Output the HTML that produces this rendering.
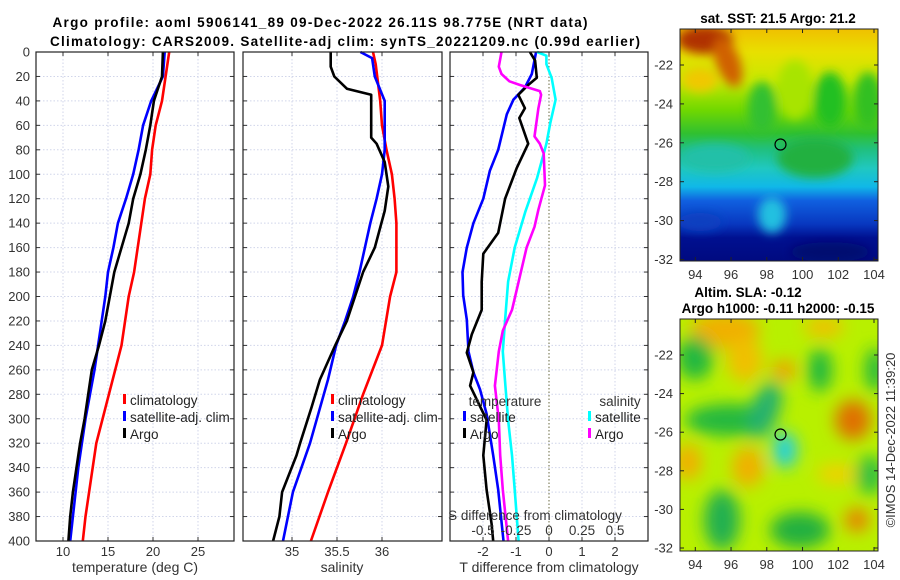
<!DOCTYPE html>
<html><head><meta charset="utf-8"><style>
html,body{margin:0;padding:0;background:#fff;}
svg{display:block;font-family:"Liberation Sans","DejaVu Sans",sans-serif;}
</style></head><body>
<svg id="fig" width="900" height="580" viewBox="0 0 900 580" xmlns="http://www.w3.org/2000/svg">
<defs>
<filter id="blur1" x="-20%" y="-20%" width="140%" height="140%"><feGaussianBlur stdDeviation="5"/></filter>
<filter id="blur2" x="-20%" y="-20%" width="140%" height="140%"><feGaussianBlur stdDeviation="8"/></filter>
<clipPath id="clipM1"><rect x="680" y="29" width="198" height="232"/></clipPath>
<clipPath id="clipM2"><rect x="680" y="319" width="198" height="232"/></clipPath>
<linearGradient id="sstg" x1="0" y1="0" x2="0" y2="1">
<stop offset="0" stop-color="#f0c000"/><stop offset="0.1" stop-color="#e8e000"/>
<stop offset="0.22" stop-color="#c8e800"/><stop offset="0.35" stop-color="#70d800"/>
<stop offset="0.45" stop-color="#30c030"/><stop offset="0.52" stop-color="#20c080"/>
<stop offset="0.6" stop-color="#20c8c0"/><stop offset="0.68" stop-color="#10b8e8"/>
<stop offset="0.74" stop-color="#1060e0"/><stop offset="0.84" stop-color="#0838c0"/>
<stop offset="0.9" stop-color="#001090"/><stop offset="1" stop-color="#000a80"/></linearGradient>
</defs>

<text x="320" y="27" font-size="13.5" font-weight="bold" text-anchor="middle" textLength="535">Argo profile: aoml 5906141_89 09-Dec-2022 26.11S 98.775E (NRT data)</text>
<text x="345" y="46" font-size="13.5" font-weight="bold" text-anchor="middle" textLength="590">Climatology: CARS2009. Satellite-adj clim: synTS_20221209.nc (0.99d earlier)</text>

<g id="panels"></g>

<!-- SST map -->
<text x="778" y="23" font-size="13.5" font-weight="bold" text-anchor="middle">sat. SST: 21.5 Argo: 21.2</text>
<g clip-path="url(#clipM1)">
<rect x="680" y="29" width="198" height="232" fill="url(#sstg)"/>
<g filter="url(#blur1)">
<ellipse cx="705" cy="40" rx="28" ry="14" fill="#b03000"/>
<ellipse cx="728" cy="62" rx="12" ry="26" fill="#d06000" transform="rotate(-20 728 62)"/>
<ellipse cx="700" cy="80" rx="18" ry="12" fill="#f0c800"/>
<ellipse cx="795" cy="90" rx="18" ry="30" fill="#a8e400"/>
<ellipse cx="762" cy="108" rx="14" ry="26" fill="#30c030"/>
<ellipse cx="830" cy="100" rx="16" ry="28" fill="#20c020"/>
<ellipse cx="868" cy="100" rx="14" ry="28" fill="#30c020"/>
<ellipse cx="815" cy="158" rx="38" ry="20" fill="#20b040"/>
<ellipse cx="715" cy="158" rx="34" ry="14" fill="#20c0a8"/>
<ellipse cx="772" cy="215" rx="14" ry="18" fill="#20c0e0"/>
<ellipse cx="700" cy="222" rx="22" ry="9" fill="#0a40c0"/>
<ellipse cx="830" cy="252" rx="40" ry="10" fill="#000870"/>
</g>
</g>
<rect x="680" y="29" width="198" height="232" fill="none" stroke="#222"/>
<ellipse cx="780.5" cy="144.5" rx="5.5" ry="5.5" fill="none" stroke="#000" stroke-width="1.2"/>
<g id="m1ticks"></g>

<!-- SLA map -->
<text x="748" y="297" font-size="13.5" font-weight="bold" text-anchor="middle">Altim. SLA: -0.12</text>
<text x="778" y="313" font-size="13.5" font-weight="bold" text-anchor="middle">Argo h1000: -0.11 h2000: -0.15</text>
<g clip-path="url(#clipM2)">
<rect x="680" y="319" width="198" height="232" fill="#b8f000"/>
<g filter="url(#blur2)">
<ellipse cx="725" cy="330" rx="35" ry="18" fill="#f0b000"/>
<ellipse cx="745" cy="360" rx="18" ry="22" fill="#f0c000"/>
<ellipse cx="784" cy="370" rx="12" ry="10" fill="#f0a000"/>
<ellipse cx="824" cy="327" rx="20" ry="10" fill="#f0c000"/>
<ellipse cx="853" cy="420" rx="18" ry="20" fill="#e07000"/>
<ellipse cx="857" cy="520" rx="12" ry="12" fill="#e88000"/>
<ellipse cx="688" cy="462" rx="14" ry="18" fill="#f0b000"/>
<ellipse cx="748" cy="467" rx="16" ry="20" fill="#f0b000"/>
<ellipse cx="837" cy="474" rx="20" ry="10" fill="#f0d000"/>
<ellipse cx="695" cy="358" rx="18" ry="22" fill="#20b840"/>
<ellipse cx="730" cy="420" rx="45" ry="16" fill="#20b840"/>
<ellipse cx="765" cy="410" rx="14" ry="30" fill="#20b070" transform="rotate(20 765 410)"/>
<ellipse cx="785" cy="450" rx="12" ry="18" fill="#20d0e0"/>
<ellipse cx="820" cy="370" rx="12" ry="22" fill="#20b840"/>
<ellipse cx="875" cy="370" rx="10" ry="22" fill="#20b840"/>
<ellipse cx="722" cy="520" rx="18" ry="30" fill="#20b050"/>
<ellipse cx="800" cy="530" rx="30" ry="18" fill="#20b040"/>
<ellipse cx="870" cy="475" rx="14" ry="20" fill="#30c040"/>
</g>
</g>
<rect x="680" y="319" width="198" height="232" fill="none" stroke="#222"/>
<ellipse cx="780.5" cy="434.5" rx="5.5" ry="5.5" fill="none" stroke="#000" stroke-width="1.2"/>
<g id="m2ticks"></g>
<text transform="translate(895,440) rotate(-90)" font-size="13" fill="#333" text-anchor="middle">©IMOS 14-Dec-2022 11:39:20</text>
</svg>

<script>
// ---- data ----
const depthTicks = [0,20,40,60,80,100,120,140,160,180,200,220,240,260,280,300,320,340,360,380,400];
// Temperature panel
const tDepth = [0,20,40,60,80,100,120,140,160,180,200,220,240,260,280,300,320,340,360,380,400];
const tClim  = [21.8,21.4,21.0,20.3,19.9,19.7,19.1,18.7,18.3,17.9,17.3,16.9,16.5,15.8,15.1,14.4,13.7,13.3,12.9,12.5,12.2];
const tSat   = [21.3,21.1,19.8,18.9,18.4,17.8,17.0,16.1,15.6,15.0,14.7,14.3,13.9,13.5,13.0,12.5,12.1,11.7,11.4,11.1,10.8];
const tArgo  = [21.1,21.0,20.1,19.7,19.2,18.6,17.8,17.3,16.5,15.7,15.2,14.7,14.0,13.2,12.8,12.4,11.9,11.5,11.1,10.8,10.6];
const tTicks = [10,15,20,25];
// Salinity panel
const sClimDepth = [0,10,40,60,80,100,120,140,180,200,240,280,320,360,400];
const sClim  = [35.90,35.93,35.98,36.0,36.05,36.11,36.14,36.16,36.16,36.09,36.0,35.79,35.6,35.4,35.21];
const sSatDepth = [0,5,20,40,60,80,100,120,140,160,180,200,220,240,268,320,360,400];
const sSat   = [35.76,35.89,35.92,36.03,36.03,36.03,36.0,35.94,35.87,35.81,35.75,35.68,35.59,35.49,35.40,35.2,35.01,34.9];
const sArgoDepth = [0,12,20,30,35,70,75,90,110,130,160,180,200,220,240,268,290,320,330,360,380,400];
const sArgo  = [35.43,35.43,35.47,35.61,35.88,35.88,35.94,36.03,36.07,36.03,35.92,35.79,35.70,35.61,35.48,35.31,35.22,35.09,35.05,34.89,34.86,34.79];
const sTicks = [35,35.5,36];
// Difference panel
const dTSatDepth = [0,18,29,39,51,80,97,120,140,160,180,199,219,245,262,276,296,330,358,400];
const dTSat  = [-0.39,-0.52,-0.73,-1.08,-1.28,-1.54,-1.79,-1.99,-2.29,-2.49,-2.62,-2.6,-2.49,-2.44,-2.29,-2.09,-1.89,-1.69,-1.54,-1.38];
const dTArgoDepth = [0,7,21,27,35,46,54,75,95,120,148,165,188,211,231,246,262,273,301,330,358,386,400];
const dTArgo = [-0.58,-0.42,-0.37,-0.63,-0.93,-0.73,-0.9,-0.63,-0.98,-1.33,-1.54,-1.99,-2.04,-2.04,-2.34,-2.49,-2.29,-2.39,-1.89,-1.99,-1.89,-1.74,-1.69];
const dSSatDepth = [0,3,10,21,39,58,75,103,131,160,188,216,245,273,301,330,358,400];
const dSSat  = [-0.09,-0.02,-0.02,0.02,0.05,0.01,-0.02,-0.09,-0.18,-0.26,-0.31,-0.33,-0.35,-0.33,-0.31,-0.28,-0.26,-0.23];
const dSArgoDepth = [0,12,18,24,27,32,35,46,69,75,83,109,129,143,160,188,211,228,245,273,301,330,358,400];
const dSArgo = [-0.36,-0.38,-0.36,-0.30,-0.22,-0.07,-0.06,-0.08,-0.11,-0.07,-0.04,-0.03,-0.08,-0.11,-0.17,-0.23,-0.28,-0.35,-0.38,-0.41,-0.38,-0.37,-0.35,-0.31];
const dTTicks = [-2,-1,0,1,2];
const dSTicks = [-0.5,-0.25,0,0.25,0.5];
const dSTickLabels = ["-0.5","-0.25","0","0.25","0.5"];
const latTicks = [-22,-24,-26,-28,-30,-32];
const lonTicks = [94,96,98,100,102,104];

// ---- helpers ----
const NS = "http://www.w3.org/2000/svg";
const root = document.getElementById('panels');
function mk(tag, attrs, parent){const e=document.createElementNS(NS,tag);for(const k in attrs)e.setAttribute(k,attrs[k]);(parent||root).appendChild(e);return e;}
const Y0=52, Y1=541;
function yScale(d){return Y0 + d*(Y1-Y0)/400;}
function lin(d0,d1,r0,r1){return v=>r0+(v-d0)*(r1-r0)/(d1-d0);}

function panel(name, x0, x1, xs, ticks, tickLabels, showY){
  const g = mk('g',{});
  
  
  ticks.forEach(t=>{
    const x=xs(t);
    const zero=(name==='difference-panel'&&t===0);
    const gl=mk('line',{x1:x,x2:x,y1:Y0,y2:Y1,stroke:zero?'#6a6a40':'#d0d5ea','stroke-width':1,'stroke-dasharray':zero?'1.5,2':'1.5,2'},g);
    
    
    mk('line',{x1:x,x2:x,y1:Y0,y2:Y0+4,stroke:'#333'},g);
    mk('line',{x1:x,x2:x,y1:Y1,y2:Y1-4,stroke:'#333'},g);
  });
  depthTicks.forEach(d=>{
    const y=yScale(d);
    if(d>0&&d<400){
      const gl=mk('line',{x1:x0,x2:x1,y1:y,y2:y,stroke:'#d0d5ea','stroke-width':1,'stroke-dasharray':'1.5,2'},g);
      
      
    }
    mk('line',{x1:x0,x2:x0+4,y1:y,y2:y,stroke:'#333'},g);
    mk('line',{x1:x1,x2:x1-4,y1:y,y2:y,stroke:'#333'},g);
    if(showY){
      const t=mk('text',{x:30,y:y+4.5,'font-size':13,fill:'#333','text-anchor':'end'},g);
      t.textContent=d;
      
      
    }
  });
  if(tickLabels){
    ticks.forEach((t,i)=>{
      const tl=mk('text',{x:xs(t),y:556,'font-size':13,fill:'#333','text-anchor':'middle'},g);
      tl.textContent=tickLabels[i];
      
      
    });
  }
  return g;
}
function series(g, name, depths, vals, xs, color){
  const pts = depths.map((d,i)=>xs(vals[i]).toFixed(1)+','+yScale(d).toFixed(1)).join(' ');
  const p=mk('polyline',{points:pts,fill:'none',stroke:color,'stroke-width':2.6,'stroke-linejoin':'round'},g);
  
  
}
function frame(g,x0,x1){const r=mk('rect',{x:x0,y:Y0,width:x1-x0,height:Y1-Y0,fill:'none',stroke:'#222','stroke-width':1.2},g);
  
  }
function legendRow(g, x, y, color, label){
  const e=mk('g',{},g);
  
  
  mk('rect',{x:x,y:y-11,width:3,height:10,fill:color},e);
  const t=mk('text',{x:x+7,y:y,'font-size':13.5,fill:'#222'},e);
  t.textContent=label;
}
function label(g,x,y,txt,name,size){
  const t=mk('text',{x:x,y:y,'font-size':size||13.5,fill:'#333','text-anchor':'middle'},g);
  t.textContent=txt;
  
  
}

// Panel 1: temperature
const xT = lin(7,29,36,234);
const g1 = panel('temperature-panel',36,234,xT,tTicks,tTicks.map(String),true);
series(g1,'temp-climatology-line',tDepth,tClim,xT,'#ff0000');
series(g1,'temp-satellite-line',tDepth,tSat,xT,'#0000ff');
series(g1,'temp-argo-line',tDepth,tArgo,xT,'#000000');
frame(g1,36,234);
legendRow(g1,123,405,'#ff0000','climatology');
legendRow(g1,123,422,'#0000ff','satellite-adj. clim');
legendRow(g1,123,439,'#000000','Argo');
label(g1,135,572,'temperature (deg C)','x-axis-title-temperature',14);

// Panel 2: salinity
const xS = lin(35,36,292,382);
const g2 = panel('salinity-panel',243,442,xS,sTicks,["35","35.5","36"],false);
series(g2,'sal-climatology-line',sClimDepth,sClim,xS,'#ff0000');
series(g2,'sal-satellite-line',sSatDepth,sSat,xS,'#0000ff');
series(g2,'sal-argo-line',sArgoDepth,sArgo,xS,'#000000');
frame(g2,243,442);
legendRow(g2,331,405,'#ff0000','climatology');
legendRow(g2,331,422,'#0000ff','satellite-adj. clim');
legendRow(g2,331,439,'#000000','Argo');
label(g2,342,572,'salinity','x-axis-title-salinity',14);

// Panel 3: differences
const xD = lin(-3,3,450,648);
const xDS = lin(-0.75,0.75,450,648);
const g3 = panel('difference-panel',450,648,xD,dTTicks,dTTicks.map(String),false);
series(g3,'dT-satellite-line',dTSatDepth,dTSat,xD,'#0000ff');
series(g3,'dT-argo-line',dTArgoDepth,dTArgo,xD,'#000000');
series(g3,'dS-satellite-line',dSSatDepth,dSSat,xDS,'#00ffff');
series(g3,'dS-argo-line',dSArgoDepth,dSArgo,xDS,'#ff00ff');
frame(g3,450,648);
label(g3,505,406,'temperature','legend-heading-temperature');
label(g3,620,406,'salinity','legend-heading-salinity');
legendRow(g3,463,422,'#0000ff','satellite');
legendRow(g3,463,439,'#000000','Argo');
legendRow(g3,588,422,'#00ffff','satellite');
legendRow(g3,588,439,'#ff00ff','Argo');
label(g3,535,520,'S difference from climatology','s-axis-title');
dSTicks.forEach((t,i)=>{label(g3,xDS(t),535,dSTickLabels[i],'s-tick-label');});
label(g3,549,572,'T difference from climatology','x-axis-title-difference',14);

// Map ticks
function mapTicks(id, top, lat22y, latStep){
  const g=document.getElementById(id);
  latTicks.forEach((lt,i)=>{
    const y=lat22y+i*latStep;
    mk('line',{x1:680,x2:684,y1:y,y2:y,stroke:'#222'},g);
    mk('line',{x1:878,x2:874,y1:y,y2:y,stroke:'#222'},g);
    const t=mk('text',{x:673,y:y+4.5,'font-size':13,fill:'#333','text-anchor':'end'},g);
    t.textContent=lt;
    
    
  });
  lonTicks.forEach(ln=>{
    const x=695.3+(ln-94)*17.87;
    mk('line',{x1:x,x2:x,y1:top+232,y2:top+228,stroke:'#222'},g);
    mk('line',{x1:x,x2:x,y1:top,y2:top+4,stroke:'#222'},g);
    const t=mk('text',{x:x,y:top+250,'font-size':13,fill:'#333','text-anchor':'middle'},g);
    t.textContent=ln;
    
    
  });
}
mapTicks('m1ticks',29,65,38.9);
mapTicks('m2ticks',319,355,38.6);
</script>
</body></html>
